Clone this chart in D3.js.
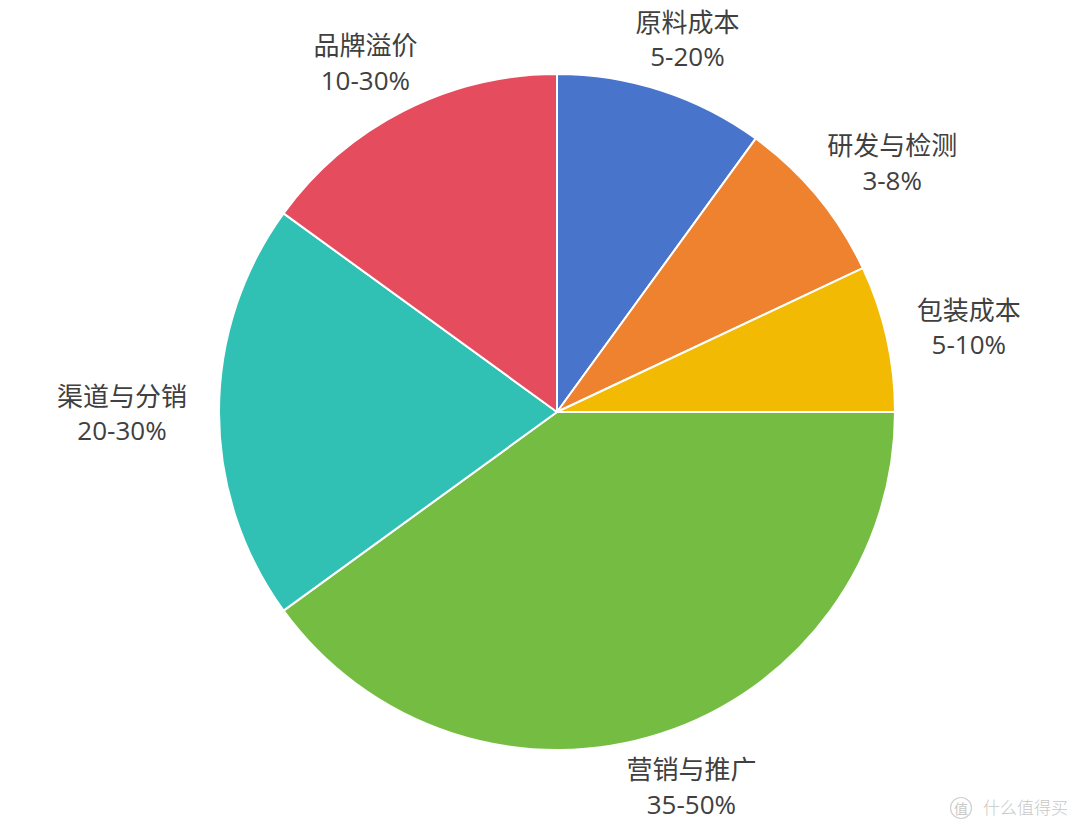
<!DOCTYPE html>
<html>
<head>
<meta charset="utf-8">
<script src="https://cdn.jsdelivr.net/npm/d3@7/dist/d3.min.js"></script>
<style>
  html, body { margin: 0; padding: 0; background: #ffffff; }
  svg { display: block; }
</style>
</head>
<body>
<svg id="chart" width="1080" height="828"></svg>
<script>
// ---- data ----
const categories = ["原料成本", "研发与检测", "包装成本", "营销与推广", "渠道与分销", "品牌溢价"];
const shares = [10, 8, 7, 40, 20, 15];
const rangeLabels = ["5-20%", "3-8%", "5-10%", "35-50%", "20-30%", "10-30%"];
const colors = ["#4874CB", "#EE822F", "#F2BA02", "#75BD42", "#30C0B4", "#E54C5E"];

// ---- layout ----
const W = 1080, H = 828;
const cx = 557, cy = 412, R = 338;
const labelGap = 32, labelHalfH = 23, lineGap = 36;
const cjkFont = "'Noto Sans CJK SC', 'Microsoft YaHei', sans-serif";
const numFont = "'Open Sans', 'Noto Sans', sans-serif";

const svg = d3.select("#chart");
const g = svg.append("g").attr("transform", `translate(${cx},${cy})`);

const data = categories.map((c, i) => ({ name: c, value: shares[i], range: rangeLabels[i], color: colors[i] }));

const pie = d3.pie().value(d => d.value).sort(null);
const arcs = pie(data);
const arc = d3.arc().innerRadius(0).outerRadius(R);

g.selectAll("path.slice")
  .data(arcs)
  .join("path")
  .attr("class", "slice")
  .attr("d", arc)
  .attr("fill", d => d.data.color)
  .attr("stroke", "#ffffff")
  .attr("stroke-width", 2)
  .attr("stroke-linejoin", "round");

// labels: one text element per slice, two lines as tspans
const labels = g.selectAll("text.label")
  .data(arcs)
  .join("text")
  .attr("class", "label")
  .attr("text-anchor", "middle")
  .attr("font-size", 26)
  .attr("fill", "#404040");

labels.each(function(d) {
  const t = d3.select(this);
  const s1 = t.append("tspan").attr("dominant-baseline", "central")
    .attr("font-family", cjkFont).text(d.data.name);
  const s2 = t.append("tspan").attr("dominant-baseline", "central")
    .attr("font-family", numFont).text(d.data.range);
  const w = Math.max(s1.node().getComputedTextLength(), s2.node().getComputedTextLength());
  const mid = (d.startAngle + d.endAngle) / 2;
  const s = Math.sin(mid), c = Math.cos(mid);
  const px = s * (R + labelGap) + s * w / 2;
  const py = -c * (R + labelGap) - c * labelHalfH;
  s1.attr("x", px).attr("y", py - lineGap / 2);
  s2.attr("x", px).attr("y", py + lineGap / 2);
});

// watermark
const wm = svg.append("g").attr("fill", "#c8c8c8");
wm.append("circle").attr("cx", 961).attr("cy", 808).attr("r", 10.5)
  .attr("fill", "none").attr("stroke", "#cfcfcf").attr("stroke-width", 1.2);
wm.append("text").attr("x", 961).attr("y", 808)
  .attr("text-anchor", "middle").attr("dominant-baseline", "central")
  .attr("font-family", cjkFont).attr("font-size", 14).text("值");
wm.append("text").attr("x", 983).attr("y", 806)
  .attr("dominant-baseline", "central")
  .attr("font-family", cjkFont).attr("font-size", 17).attr("font-weight", 300)
  .text("什么值得买");
</script>
</body>
</html>
